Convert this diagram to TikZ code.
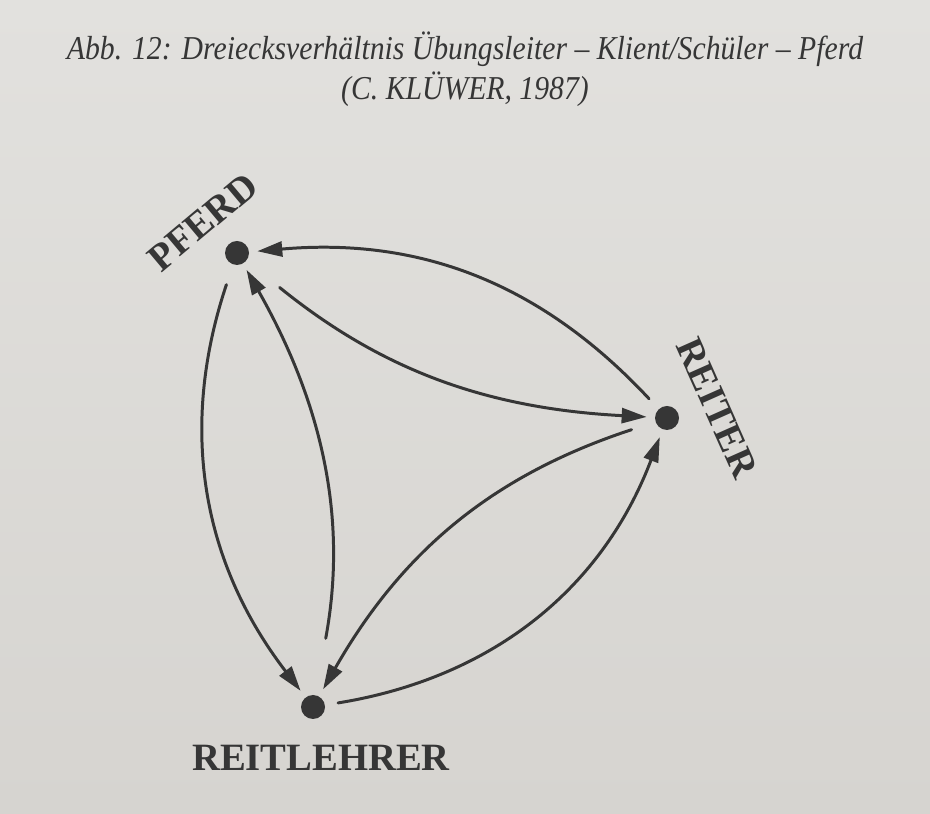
\documentclass[tikz,border=0pt]{standalone}
\usepackage{fontspec}
\setmainfont{Liberation Serif}
\newfontfamily\captionfont[FakeStretch=0.89]{Liberation Serif}
\usetikzlibrary{arrows.meta}
\definecolor{figink}{HTML}{363636}
\definecolor{figpage}{HTML}{D6D4D0}
\definecolor{figpagetop}{HTML}{E2E1DE}

\tikzset{
  dot/.style={circle, fill=figink, inner sep=0pt, minimum size=0.48cm},
  rel/.style={draw=figink, line width=1.7pt,
    -{Triangle[length=5mm,width=3mm]}, shorten >=0.16cm},
  pole/.style={text=figink, font=\bfseries\fontsize{22}{26}\selectfont, inner sep=0pt}
}

\begin{document}
\begin{tikzpicture}[x=1cm, y=1cm, line cap=round, line join=round]
  % Seite (Papier)
  \shade[top color=figpagetop, bottom color=figpage] (0,0) rectangle (18.6,16.26);
  \useasboundingbox (0,0) rectangle (18.6,16.26);

  % Bildunterschrift
  \node[text=figink, align=center, font=\captionfont\itshape\fontsize{19}{22.5}\selectfont]
    (caption) at (9.30,14.88)
    {Abb. 12: Dreiecksverhältnis Übungsleiter – Klient/Schüler – Pferd\\
     (C. KLÜWER, 1987)};

  % die drei Pole
  \node[dot] (pferd)  at (4.74,11.20) {};
  \node[dot] (reiter) at (13.34,7.90) {};
  \node[dot] (lehrer) at (6.26,2.12)  {};

  \node[pole, rotate=40]  (pferdlab)  at (4.06,11.82) {PFERD};
  \node[pole, rotate=-66] (reiterlab) at (14.34,8.10) {REITER};
  \node[pole]             (lehrerlab) at (6.42,1.10)  {REITLEHRER};

  % aeussere Boegen (Kreis gegen den Uhrzeiger)
  \draw[rel, shorten <=0.28cm] (reiter) to[bend right=26] (pferd);
  \draw[rel, shorten <=0.42cm] (pferd)  to[bend right=28] (lehrer);
  \draw[rel, shorten <=0.26cm] (lehrer) to[bend right=30] (reiter);

  % innere Boegen (Gegenrichtung)
  \draw[rel, shorten <=0.85cm] (pferd)  to[bend right=18] (reiter);
  \draw[rel, shorten <=0.50cm] (reiter) to[bend right=21] (lehrer);
  \draw[rel, shorten <=1.15cm, shorten >=0.14cm] (lehrer) to[bend right=20] (pferd);
\end{tikzpicture}
\end{document}
